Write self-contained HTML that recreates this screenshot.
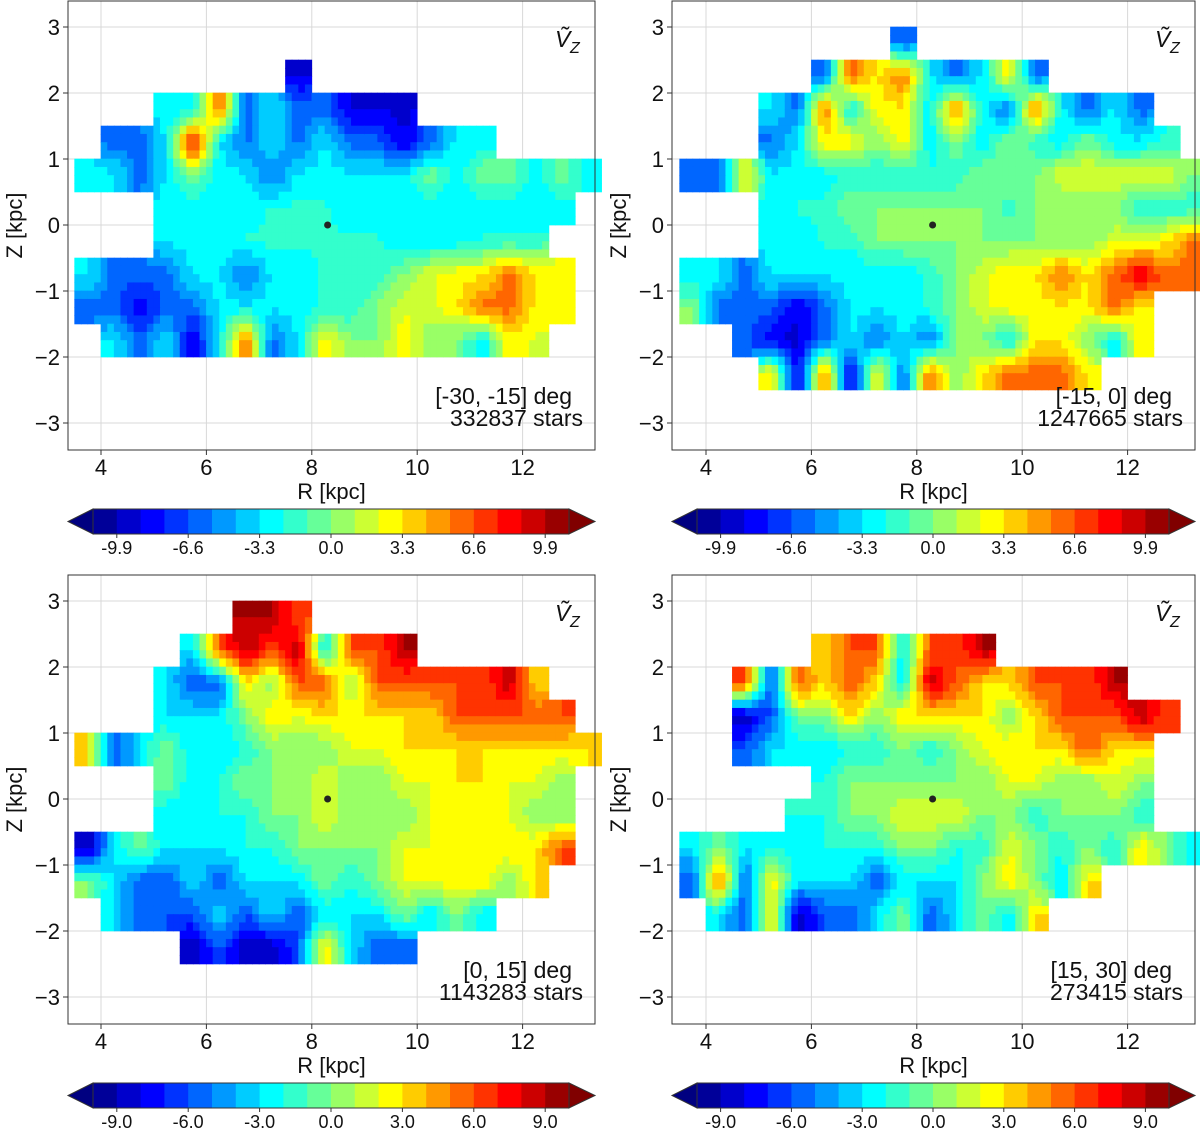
<!DOCTYPE html>
<html><head><meta charset="utf-8"><style>
body{margin:0;background:#fff}
svg{display:block;font-family:"Liberation Sans","DejaVu Sans",sans-serif}
</style></head><body>
<svg id="fig" width="1200" height="1128" viewBox="0 0 1200 1128" xmlns="http://www.w3.org/2000/svg"></svg>
<script>
const _ = null;
const rCenters = [3.75,4.25,4.75,5.25,5.75,6.25,6.75,7.25,7.75,8.25,8.75,9.25,9.75,10.25,10.75,11.25,11.75,12.25,12.75,13.25];
const zCenters = [2.75,2.25,1.75,1.25,0.75,0.25,-0.25,-0.75,-1.25,-1.75,-2.25,-2.75];
const xTicks = [4,6,8,10,12];
const yTicks = [-3,-2,-1,0,1,2,3];
const cbTicksTop = ["-9.9","-6.6","-3.3","0.0","3.3","6.6","9.9"];
const cbTicksBottom = ["-9.0","-6.0","-3.0","0.0","3.0","6.0","9.0"];
const labels1 = ["[-30, -15] deg","332837 stars"];
const labels2 = ["[-15, 0] deg","1247665 stars"];
const labels3 = ["[0, 15] deg","1143283 stars"];
const labels4 = ["[15, 30] deg","273415 stars"];
const vz1 = [
[_,_,_,_,_,_,_,_,_,_,_,_,_,_,_,_,_,_,_,_],
[_,_,_,_,_,_,_,_,-9,_,_,_,_,_,_,_,_,_,_,_],
[_,_,_,-3,-3,6,-6,-3,-6,-6,-9,-9,-9,_,_,_,_,_,_,_],
[_,-6,-6,-3,9,-3,-6,-3,-6,-3,-6,-6,-9,-6,-3,-3,_,_,_,_],
[-3,-3,-6,-3,0,-3,-3,-6,-3,-3,-3,-3,-3,0,-3,0,0,-3,0,-3],
[_,_,_,-3,-3,-3,-3,-2,-2,-2,-3,-3,-3,-3,-3,-3,-3,-3,-3,_],
[_,_,_,-3,-3,-3,-2,-2,-2,-2,-2,-2,-3,-3,-3,-2,-2,-2,_,_],
[-3,-6,-6,-6,-3,-3,-6,-3,-3,-2,-2,-2,0,2,3,3,6,3,3,_],
[-6,-6,-9,-6,-6,-3,-3,-3,-3,-2,-2,0,2,2,3,6,6,3,3,_],
[_,-3,-6,-3,-9,-3,6,-6,-3,3,0,0,3,0,0,-3,3,2,_,_],
[_,_,_,_,_,_,_,_,_,_,_,_,_,_,_,_,_,_,_,_],
[_,_,_,_,_,_,_,_,_,_,_,_,_,_,_,_,_,_,_,_]];
const vz2 = [
[_,_,_,_,_,_,_,_,-6,_,_,_,_,_,_,_,_,_,_,_],
[_,_,_,_,_,-6,6,3,6,-3,-6,-3,3,-6,_,_,_,_,_,_],
[_,_,_,-3,-6,6,-3,3,3,-3,6,-3,-6,6,-3,-6,-3,-6,_,_],
[_,_,_,-6,-3,3,3,0,3,-3,0,-3,0,-2,-3,0,-3,-3,-2,_],
[-6,-6,3,-3,-3,-3,-2,-2,-2,-2,-2,0,0,0,2,2,2,2,2,0],
[_,_,_,-3,-2,-2,0,0,0,0,0,0,-2,0,0,0,0,-2,-2,-2],
[_,_,_,-3,-3,-2,-2,0,0,0,0,0,0,0,0,0,2,2,3,6],
[-3,-3,-6,-3,-3,-3,-3,-3,-3,-2,0,2,3,3,6,3,6,9,6,6],
[0,-6,-6,-6,-9,-6,-3,-3,-3,-2,0,2,3,3,3,3,6,3,_,_],
[_,_,-6,-9,-9,-6,-3,-6,-3,-6,0,0,-3,3,3,0,-3,3,_,_],
[_,_,_,3,-9,6,-9,3,-6,6,0,3,6,6,6,3,_,_,_,_],
[_,_,_,_,_,_,_,_,_,_,_,_,_,_,_,_,_,_,_,_]];
const vz3 = [
[_,_,_,_,_,_,9,9,6,_,_,_,_,_,_,_,_,_,_,_],
[_,_,_,_,-3,6,9,6,9,-3,6,6,9,_,_,_,_,_,_,_],
[_,_,_,-3,-6,-6,3,0,6,6,0,6,6,6,6,6,9,3,_,_],
[_,_,_,-3,-3,-3,0,3,2,3,3,3,3,3,6,6,6,6,6,_],
[3,-6,-3,0,-3,-3,-2,0,0,0,2,2,3,3,3,3,3,3,3,3],
[_,_,_,0,-3,-2,0,0,0,2,0,0,2,2,3,3,2,2,0,_],
[_,_,_,-3,-3,-2,-2,0,0,2,0,0,0,2,2,2,2,0,0,_],
[-9,-3,0,-3,-3,-3,-2,-2,0,0,0,0,2,2,3,2,3,3,6,_],
[0,-3,-6,-6,-3,-6,-3,-3,-3,0,-2,0,2,2,3,3,0,3,_,_],
[_,-3,-6,-6,-6,-3,-6,-3,-6,-3,-3,-3,0,-3,0,-3,_,_,_,_],
[_,_,_,_,-9,-6,-9,-9,-6,3,-3,-6,-6,_,_,_,_,_,_,_],
[_,_,_,_,_,_,_,_,_,_,_,_,_,_,_,_,_,_,_,_]];
const vz4 = [
[_,_,_,_,_,_,_,_,_,_,_,_,_,_,_,_,_,_,_,_],
[_,_,_,_,_,3,6,6,-3,6,6,9,_,_,_,_,_,_,_,_],
[_,_,6,-6,6,3,6,3,-3,9,6,3,3,6,6,6,9,_,_,_],
[_,_,-9,-6,0,0,3,0,3,3,3,3,0,3,6,6,6,9,6,_],
[_,_,-6,-3,-3,-3,-2,-2,0,-2,0,2,3,3,3,6,3,3,_,_],
[_,_,_,_,_,-2,0,0,0,0,0,0,2,2,0,0,2,0,_,_],
[_,_,_,_,-2,-2,0,0,2,2,2,0,0,-2,0,0,0,-2,_,_],
[-3,0,-3,-2,-3,-2,-2,-2,0,0,-2,-2,2,0,-2,0,-2,3,0,-3],
[-6,6,-6,3,-3,-3,-3,-6,-3,-3,-3,0,3,0,-3,3,_,_,_,_],
[_,-3,-6,3,-9,-6,-6,-3,0,-6,-3,0,-3,3,_,_,_,_,_,_],
[_,_,_,_,_,_,_,_,_,_,_,_,_,_,_,_,_,_,_,_],
[_,_,_,_,_,_,_,_,_,_,_,_,_,_,_,_,_,_,_,_]];

const NS="http://www.w3.org/2000/svg";
const fig=document.getElementById('fig');
function mk(tag,attrs,parent){const e=document.createElementNS(NS,tag);for(const k in attrs)e.setAttribute(k,attrs[k]);(parent||fig).appendChild(e);return e;}
function clamp(v){return Math.max(0,Math.min(1,v));}
function jet(x){const r=clamp(1.5-Math.abs(4*x-3)),g=clamp(1.5-Math.abs(4*x-2)),b=clamp(1.5-Math.abs(4*x-1));return `rgb(${Math.round(r*255)},${Math.round(g*255)},${Math.round(b*255)})`;}
function colorFor(v,vmax){let t=(v+vmax)/(2*vmax);let bin=Math.floor(t*20);bin=Math.max(0,Math.min(19,bin));return jet((bin+0.5)/20);}
function getv(vals,i,j){if(i<0||i>=vals.length||j<0||j>=vals[0].length)return null;return vals[i][j];}
function interp(vals,fi,fj){
  const i0=Math.floor(fi), j0=Math.floor(fj), di=fi-i0, dj=fj-j0;
  let s=0,w=0;
  [[i0,j0,(1-di)*(1-dj)],[i0+1,j0,di*(1-dj)],[i0,j0+1,(1-di)*dj],[i0+1,j0+1,di*dj]].forEach(([a,b,ww])=>{
    const v=getv(vals,a,b); if(v!==null&&ww>0){s+=v*ww;w+=ww;}});
  return w>0?s/w:null;
}

function panel(name,left,right,top,bottom,xR4,yZ0,vals,lab,ticks,vmax){
  const sx=52.7, sy=66;
  const X=r=>xR4+(r-4)*sx, Y=z=>yZ0-z*sy;
  const g=mk('g',{});
  
  
  xTicks.forEach(t=>{const l=mk('line',{x1:X(t),x2:X(t),y1:top,y2:bottom,stroke:'#d8d8d8','stroke-width':1},g);
    });
  yTicks.forEach(t=>{const l=mk('line',{x1:left,x2:right,y1:Y(t),y2:Y(t),stroke:'#d8d8d8','stroke-width':1},g);
    });
  const cg=mk('g',{},g);
  
  
  const N=4;
  vals.forEach((row,i)=>row.forEach((v,j)=>{ if(v===null)return;
    const r=rCenters[j], z=zCenters[i];
    for(let a=0;a<N;a++)for(let b=0;b<N;b++){
      const du=(b+0.5)/N-0.5, dw=(a+0.5)/N-0.5;
      const iv=interp(vals,i+dw,j+du);
      const c=mk('rect',{x:X(r-0.25+b*0.5/N)-0.3,y:Y(z+0.25-a*0.5/N)-0.3,width:sx*0.5/N+0.6,height:sy*0.5/N+0.6,fill:colorFor(iv===null?v:iv,vmax)},cg);
      
      
    }
  }));
  const dot=mk('circle',{cx:X(8.3),cy:Y(0),r:3.5,fill:'#222'},g);
  
  
  const fr=mk('rect',{x:left,y:top,width:right-left,height:bottom-top,fill:'none',stroke:'#333','stroke-width':1},g);
  
  xTicks.forEach(t=>{mk('line',{x1:X(t),x2:X(t),y1:bottom,y2:bottom+5,stroke:'#333'},g);
    const tx=mk('text',{x:X(t),y:bottom+25,'text-anchor':'middle','font-size':22,fill:'#111'},g);tx.textContent=t;
    });
  yTicks.forEach(t=>{mk('line',{x1:left-5,x2:left,y1:Y(t),y2:Y(t),stroke:'#333'},g);
    const tx=mk('text',{x:left-8,y:Y(t)+8,'text-anchor':'end','font-size':22,fill:'#111'},g);tx.textContent=t<0?'\u2212'+(-t):t;
    });
  const xl=mk('text',{x:(left+right)/2,y:bottom+49,'text-anchor':'middle','font-size':22,fill:'#111'},g);xl.textContent='R [kpc]';
  
  const yl=mk('text',{x:0,y:0,'text-anchor':'middle','font-size':22,fill:'#111',transform:`translate(${left-46},${(top+bottom)/2}) rotate(-90)`},g);yl.textContent='Z [kpc]';
  
  const vt=mk('text',{x:right-40,y:top+46,'font-size':23,'font-style':'italic',fill:'#111'},g);vt.textContent='Ṽ';
  
  const vs=mk('text',{x:right-25,y:top+52,'font-size':16,'font-style':'italic',fill:'#111'},g);vs.textContent='Z';
  const a1=mk('text',{x:right-23,y:bottom-46,'text-anchor':'end','font-size':23,fill:'#111'},g);a1.textContent=lab[0];
  
  const a2=mk('text',{x:right-12,y:bottom-24,'text-anchor':'end','font-size':23,fill:'#111'},g);a2.textContent=lab[1];
  
  const cbTop=bottom+59, cbH=25, x0=left+25, x1=right-26;
  const cb=mk('g',{},fig);
  
  
  const bw=(x1-x0)/20;
  for(let i=0;i<20;i++){mk('rect',{x:x0+i*bw,y:cbTop,width:bw+0.6,height:cbH,fill:jet((i+0.5)/20)},cb);}
  mk('polygon',{points:`${x0},${cbTop} ${left},${cbTop+cbH/2} ${x0},${cbTop+cbH}`,fill:jet(0),stroke:'#333'},cb);
  mk('polygon',{points:`${x1},${cbTop} ${right},${cbTop+cbH/2} ${x1},${cbTop+cbH}`,fill:jet(1),stroke:'#333'},cb);
  mk('rect',{x:x0,y:cbTop,width:x1-x0,height:cbH,fill:'none',stroke:'#333'},cb);
  ticks.forEach((t,i)=>{const v=parseFloat(t);const px=x0+(v+vmax)/(2*vmax)*(x1-x0);
    mk('line',{x1:px,x2:px,y1:cbTop+cbH,y2:cbTop+cbH+4,stroke:'#333'},cb);
    const tx=mk('text',{x:px,y:cbTop+cbH+20,'text-anchor':'middle','font-size':18,fill:'#111'},cb);tx.textContent=t;
    });
}
panel('panel-minus30-minus15',68,595,1,450,101,225,vz1,labels1,cbTicksTop,11);
panel('panel-minus15-0',672,1195,1,450,706,225,vz2,labels2,cbTicksTop,11);
panel('panel-0-15',68,595,575,1024,101,799,vz3,labels3,cbTicksBottom,10);
panel('panel-15-30',672,1195,575,1024,706,799,vz4,labels4,cbTicksBottom,10);
</script>
</body></html>
